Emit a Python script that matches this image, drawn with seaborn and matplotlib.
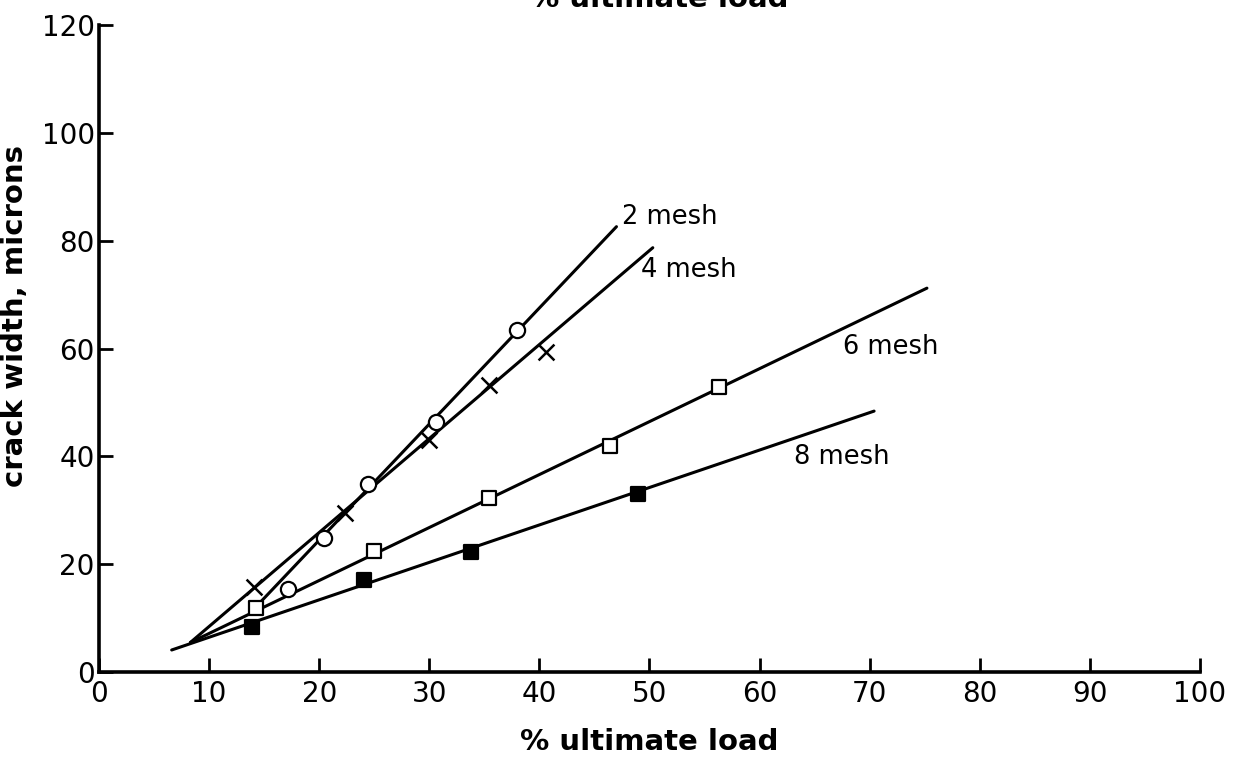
import matplotlib
matplotlib.use("Agg")
import matplotlib.pyplot as plt
import seaborn as sns
import pandas as pd

# ---- data ----
mesh_labels = ["2 mesh", "4 mesh", "6 mesh", "8 mesh"]

# measured points
x_2mesh = [17.2, 20.4, 24.4, 30.6, 38.0]
y_2mesh = [15.4, 24.9, 34.9, 46.4, 63.5]
x_4mesh = [14.1, 22.3, 30.0, 35.4, 40.6]
y_4mesh = [15.8, 29.5, 43.0, 53.2, 59.4]
x_6mesh = [14.3, 25.0, 35.4, 46.4, 56.3]
y_6mesh = [11.9, 22.4, 32.3, 41.9, 52.9]
x_8mesh = [13.9, 24.1, 33.8, 49.0]
y_8mesh = [8.3, 17.1, 22.3, 33.0]

# fitted lines (end points)
fit_x_2mesh = [14.3, 47.0]
fit_y_2mesh = [12.2, 82.6]
fit_x_4mesh = [8.3, 50.3]
fit_y_4mesh = [5.5, 78.7]
fit_x_6mesh = [8.3, 75.2]
fit_y_6mesh = [5.5, 71.2]
fit_x_8mesh = [6.6, 70.4]
fit_y_8mesh = [4.1, 48.4]

# label anchor positions (data units)
label_x = [47.5, 49.2, 67.6, 63.1]
label_y = [84.4, 74.6, 60.3, 39.9]

x_ticks = [0, 10, 20, 30, 40, 50, 60, 70, 80, 90, 100]
y_ticks = [0, 20, 40, 60, 80, 100, 120]

# ---- styling ----
sns.set_style("ticks")
plt.rcParams["font.family"] = ["DejaVu Sans"]
plt.rcParams["text.color"] = "black"
plt.rcParams["axes.labelcolor"] = "black"

fig = plt.figure(figsize=(12.44, 7.69), dpi=100)
ax = fig.add_axes([0.0796, 0.126, 0.885, 0.8415])

lw = 2.2
pts = {
    "2 mesh": (x_2mesh, y_2mesh),
    "4 mesh": (x_4mesh, y_4mesh),
    "6 mesh": (x_6mesh, y_6mesh),
    "8 mesh": (x_8mesh, y_8mesh),
}
fits = {
    "2 mesh": (fit_x_2mesh, fit_y_2mesh),
    "4 mesh": (fit_x_4mesh, fit_y_4mesh),
    "6 mesh": (fit_x_6mesh, fit_y_6mesh),
    "8 mesh": (fit_x_8mesh, fit_y_8mesh),
}
marker_style = {
    "2 mesh": dict(marker="o", facecolor="white", edgecolor="black", s=120, linewidth=1.6),
    "4 mesh": dict(marker="x", color="black", s=130, linewidth=1.8),
    "6 mesh": dict(marker="s", facecolor="white", edgecolor="black", s=110, linewidth=1.6),
    "8 mesh": dict(marker="s", facecolor="black", edgecolor="black", s=110, linewidth=1.6),
}

for name in mesh_labels:
    fx, fy = fits[name]
    line_df = pd.DataFrame({"x": fx, "y": fy})
    sns.lineplot(data=line_df, x="x", y="y", ax=ax, color="black",
                 linewidth=lw, sort=False, estimator=None, zorder=2)

for name in mesh_labels:
    px, py = pts[name]
    pt_df = pd.DataFrame({"x": px, "y": py})
    sns.scatterplot(data=pt_df, x="x", y="y", ax=ax, zorder=3, **marker_style[name])

for name, lx, ly in zip(mesh_labels, label_x, label_y):
    ax.text(lx, ly, name, fontsize=18.5, ha="left", va="center", color="black")

ax.set_xlim(0, 100)
ax.set_ylim(0, 120)
ax.set_xticks(x_ticks)
ax.set_yticks(y_ticks)
ax.set_xticklabels([str(t) for t in x_ticks])
ax.set_yticklabels([str(t) for t in y_ticks])
ax.tick_params(direction="in", length=10, width=2, labelsize=20, colors="black")
ax.tick_params(axis="x", pad=6)
ax.tick_params(axis="y", pad=3)

for side in ["top", "right"]:
    ax.spines[side].set_visible(False)
for side in ["left", "bottom"]:
    ax.spines[side].set_linewidth(2.6)
    ax.spines[side].set_color("black")

ax.set_xlabel("% ultimate load", fontsize=21, fontweight="bold", labelpad=14,
              color="black")
ax.set_ylabel("crack width, microns", fontsize=21, fontweight="bold",
              color="black")
ax.yaxis.set_label_coords(-0.064, 0.55)

# partially visible title at the very top (cut off in the reference)
fig.text(0.53, 0.991, "% ultimate load", fontsize=21, fontweight="bold",
         ha="center", va="baseline", color="black")

fig.savefig("out.png", dpi=100)
